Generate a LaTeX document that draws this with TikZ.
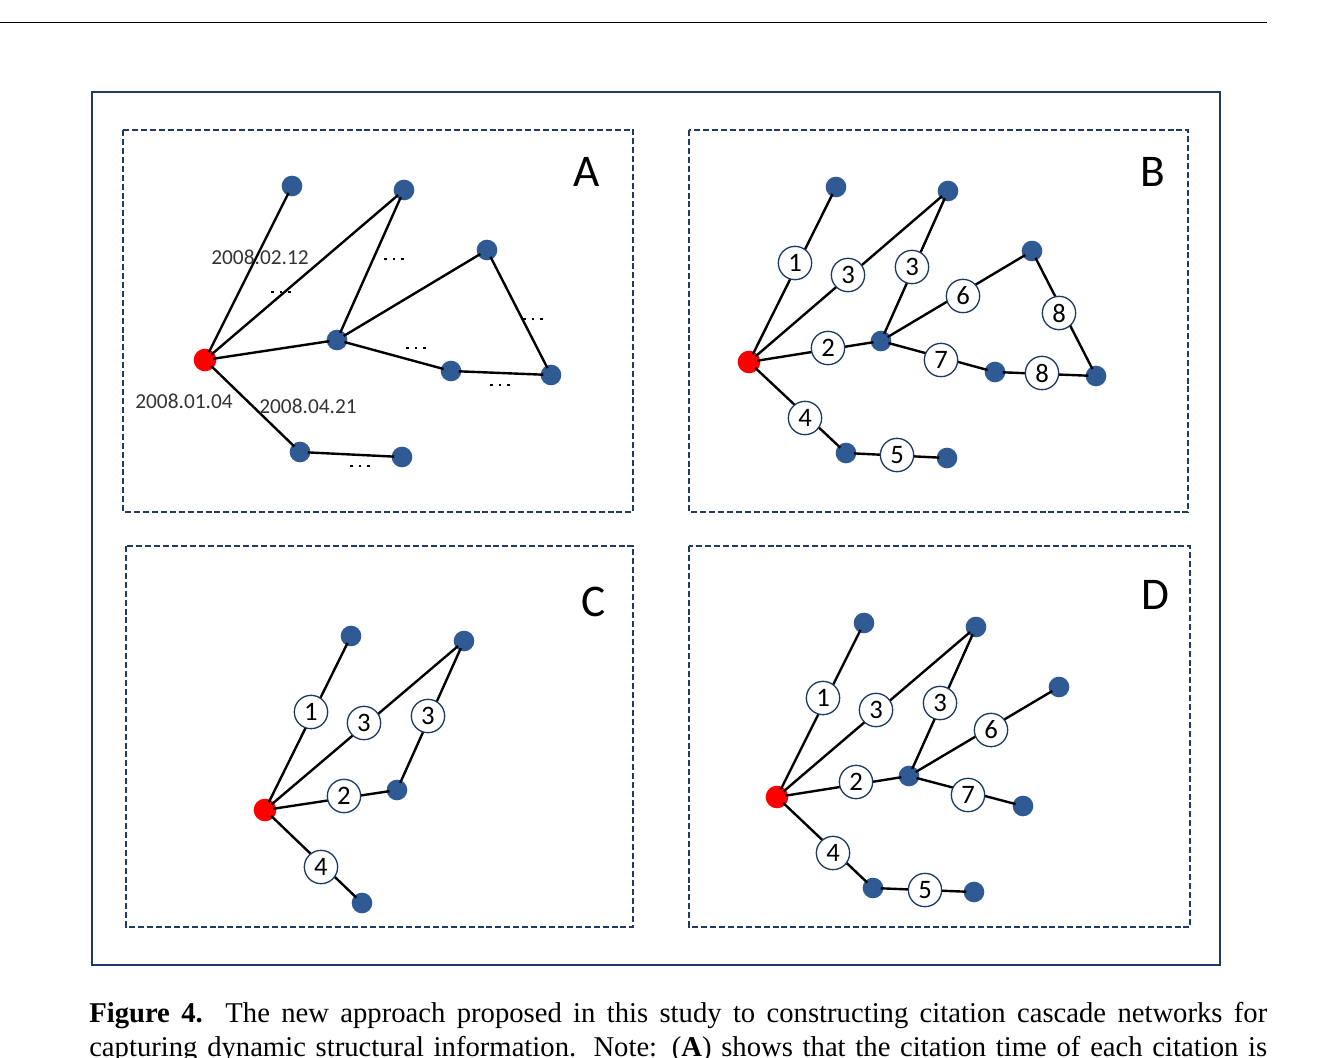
\documentclass[tikz,border=0pt]{standalone}
\usepackage{fontspec}
\setmainfont{Liberation Serif}
\newfontfamily\calfont{Carlito}
\definecolor{nb}{HTML}{2F5A93}
\definecolor{fr}{HTML}{1F3B64}
\newcommand{\mydots}{\rule{2.2pt}{2.2pt}\hspace{4.5pt}\rule{2.2pt}{2.2pt}\hspace{4.5pt}\rule{2.2pt}{2.2pt}}
\begin{document}
\begin{tikzpicture}[x=0.75pt,y=-0.75pt,
  bd/.style={circle,fill=nb,inner sep=0,minimum size=15.5},
  rd/.style={circle,fill=red,inner sep=0,minimum size=17},
  cn/.style={circle,draw=fr,line width=1pt,fill=white,inner sep=0,minimum size=25,font=\calfont\fontsize{20}{20}\selectfont},
  ed/.style={line width=1.8pt,black},
  panel/.style={draw=fr,line width=1.2pt,dash pattern=on 4.5pt off 2.2pt},
  lab/.style={font=\calfont\fontsize{34}{34}\selectfont},
  dt/.style={font=\calfont\fontsize{16}{16}\selectfont,text=black!80},
  dots/.style={inner sep=0}]
\useasboundingbox (0,0) rectangle (1339,1057);
\draw[line width=0.6pt] (0,22) -- (1267,22);
\draw[fr,line width=1.3pt] (92,92) rectangle (1220,965);
\draw[panel] (123,130) rectangle (633,512);
\draw[panel] (689,130) rectangle (1188,512);
\draw[panel] (126,546) rectangle (633,927);
\draw[panel] (689,546) rectangle (1190,927);
\node[lab] (LA) at (587,172) {A};
\node[lab] (LB) at (1153,172) {B};
\node[lab] (LC) at (594,602) {C};
\node[lab] (LD) at (1155,595) {D};
% Panel A
\node[bd] (a1) at (292,186) {}; \node[bd] (a2) at (404,190) {};
\node[bd] (a3) at (337,340) {}; \node[bd] (a4) at (487,250) {};
\node[bd] (a5) at (451,371) {}; \node[bd] (a6) at (551,375) {};
\node[bd] (a7) at (300,452) {}; \node[bd] (a8) at (402,457) {};
\node[rd] (a0) at (205,360) {};
\draw[ed] (a0.center)--(a1.center) (a0.center)--(a2.center) (a0.center)--(a3.center) (a0.center)--(a7.center)
 (a3.center)--(a2.center) (a3.center)--(a4.center) (a3.center)--(a5.center) (a4.center)--(a6.center)
 (a5.center)--(a6.center) (a7.center)--(a8.center);
\foreach \n in {1,...,8}{\fill[nb] (a\n) circle (7.8);}
\fill[red] (a0) circle (8.5);
\node[dots] (d1) at (394,259) {\mydots};
\node[dots] (d2) at (281,292) {\mydots};
\node[dots] (d3) at (416,348) {\mydots};
\node[dots] (d4) at (533,319) {\mydots};
\node[dots] (d5) at (500,385) {\mydots};
\node[dots] (d6) at (360,466) {\mydots};
\node[dt] (t1) at (260,257) {2008.02.12};
\node[dt] (t2) at (184,401) {2008.01.04};
\node[dt] (t3) at (308,406) {2008.04.21};
% Panel B
\node[bd] (b1) at (836,187) {}; \node[bd] (b2) at (948,191) {};
\node[bd] (b3) at (881,341) {}; \node[bd] (b4) at (1032,251) {};
\node[bd] (b5) at (995,372) {}; \node[bd] (b6) at (1096,376) {};
\node[bd] (b7) at (846,453) {}; \node[bd] (b8) at (947,458) {};
\node[rd] (b0) at (749,362) {};
\draw[ed] (b0.center)--(b1.center) (b0.center)--(b2.center) (b0.center)--(b3.center) (b0.center)--(b7.center)
 (b3.center)--(b2.center) (b3.center)--(b4.center) (b3.center)--(b5.center) (b4.center)--(b6.center)
 (b5.center)--(b6.center) (b7.center)--(b8.center);
\foreach \n in {1,...,8}{\fill[nb] (b\n) circle (7.8);}
\fill[red] (b0) circle (8.5);
\node[cn] (bc1) at (795,263) {1};
\node[cn] (bc2) at (848,275) {3};
\node[cn] (bc3) at (912,267) {3};
\node[cn] (bc4) at (963,296) {6};
\node[cn] (bc5) at (828,348) {2};
\node[cn] (bc6) at (941,360) {7};
\node[cn] (bc7) at (1059,313) {8};
\node[cn] (bc8) at (1042,373) {8};
\node[cn] (bc9) at (805,418) {4};
\node[cn] (bc10) at (897,455) {5};
% Panel C
\node[bd] (c1) at (351,636) {}; \node[bd] (c2) at (464,641) {};
\node[bd] (c3) at (397,790) {}; \node[bd] (c7) at (362,903) {};
\node[rd] (c0) at (265,810) {};
\draw[ed] (c0.center)--(c1.center) (c0.center)--(c2.center) (c0.center)--(c3.center) (c0.center)--(c7.center)
 (c3.center)--(c2.center);
\foreach \n in {1,2,3,7}{\fill[nb] (c\n) circle (7.8);}
\fill[red] (c0) circle (8.5);
\node[cn] (cc1) at (311,712) {1};
\node[cn] (cc2) at (364,723) {3};
\node[cn] (cc3) at (428,716) {3};
\node[cn] (cc4) at (344,796) {2};
\node[cn] (cc5) at (321,867) {4};
% Panel D
\node[bd] (e1) at (864,623) {}; \node[bd] (e2) at (976,627) {};
\node[bd] (e3) at (909,776) {}; \node[bd] (e4) at (1059,687) {};
\node[bd] (e5) at (1023,806) {};
\node[bd] (e7) at (873,888) {}; \node[bd] (e8) at (974,892) {};
\node[rd] (e0) at (777,797) {};
\draw[ed] (e0.center)--(e1.center) (e0.center)--(e2.center) (e0.center)--(e3.center) (e0.center)--(e7.center)
 (e3.center)--(e2.center) (e3.center)--(e4.center) (e3.center)--(e5.center) (e7.center)--(e8.center);
\foreach \n in {1,2,3,4,5,7,8}{\fill[nb] (e\n) circle (7.8);}
\fill[red] (e0) circle (8.5);
\node[cn] (ec1) at (823,698) {1};
\node[cn] (ec2) at (876,710) {3};
\node[cn] (ec3) at (940,703) {3};
\node[cn] (ec4) at (991,730) {6};
\node[cn] (ec5) at (856,782) {2};
\node[cn] (ec6) at (968,795) {7};
\node[cn] (ec7) at (833,853) {4};
\node[cn] (ec8) at (925,890) {5};
% caption
\node[anchor=base west,inner sep=0,font=\fontsize{21.5}{21.5}\selectfont] (cap1) at (89,1022)
 {\makebox[883.5pt][s]{\textbf{Figure 4.}\ \ The new approach proposed in this study to constructing citation cascade networks for}};
\node[anchor=base west,inner sep=0,font=\fontsize{21.5}{21.5}\selectfont] (cap2) at (89,1056)
 {\makebox[883.5pt][s]{capturing dynamic structural information. Note: (\textbf{A}) shows that the citation time of each citation is}};
\end{tikzpicture}
\end{document}
